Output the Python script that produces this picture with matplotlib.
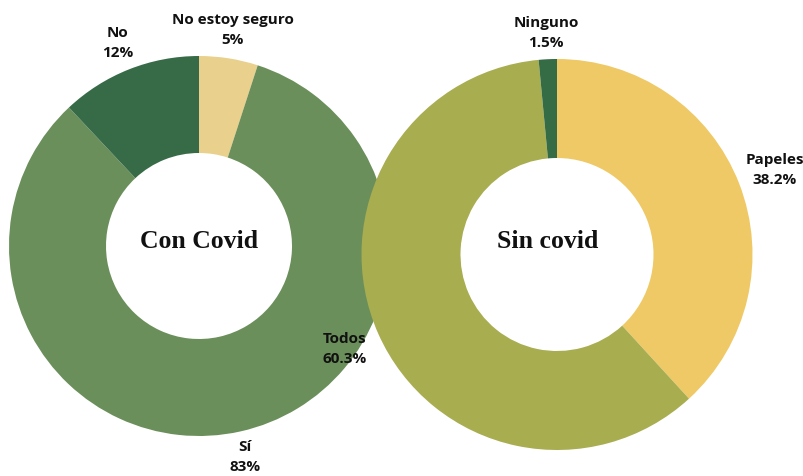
import matplotlib.pyplot as plt

# Con Covid
con_labels = ['No estoy seguro', 'Sí', 'No']
con_values = [5, 83, 12]
con_colors = ['#e9d08c', '#6a8f5a', '#376b48']

# Sin covid
sin_labels = ['Papeles', 'Todos', 'Ninguno']
sin_values = [38.2, 60.3, 1.5]
sin_colors = ['#efc965', '#a8ad50', '#356c45']

W, H = 804, 477
fig = plt.figure(figsize=(W / 100, H / 100), dpi=100)
ax = fig.add_axes([0, 0, 1, 1])

label_font = dict(family=['Open Sans', 'DejaVu Sans'], fontweight='bold',
                  fontsize=11, ha='center', va='center', color='#111111',
                  linespacing=1.6)
title_font = dict(family=['Liberation Serif', 'DejaVu Serif'], fontweight='bold',
                  fontsize=18.5, ha='center', va='center', color='#111111')

# left donut
ax.pie(con_values, colors=con_colors, startangle=90, counterclock=False,
       center=(199, H - 247), radius=190, frame=True,
       wedgeprops=dict(width=97, linewidth=0))
# right donut (drawn on top)
ax.pie(sin_values, colors=sin_colors, startangle=90, counterclock=False,
       center=(557, H - 255.5), radius=195.5, frame=True,
       wedgeprops=dict(width=99, linewidth=0))
ax.set_xlim(0, W)
ax.set_ylim(0, H)
ax.set_aspect('equal')
ax.axis('off')

ax.text(199, H - 242, 'Con Covid', **title_font)
ax.text(548, H - 242, 'Sin covid', **title_font)

# outside labels
ax.text(233, H - 30, f'{con_labels[0]}\n{con_values[0]}%', **label_font)
ax.text(118, H - 43, f'{con_labels[2]}\n{con_values[2]}%', **label_font)
ax.text(245, H - 457, f'{con_labels[1]}\n{con_values[1]}%', **label_font)
ax.text(345, H - 349, f'{sin_labels[1]}\n{sin_values[1]}%', **label_font)
ax.text(775, H - 170, f'{sin_labels[0]}\n{sin_values[0]}%', **label_font)
ax.text(546, H - 33, f'{sin_labels[2]}\n{sin_values[2]}%', **label_font)

fig.savefig('out.png', dpi=100, facecolor='white')
